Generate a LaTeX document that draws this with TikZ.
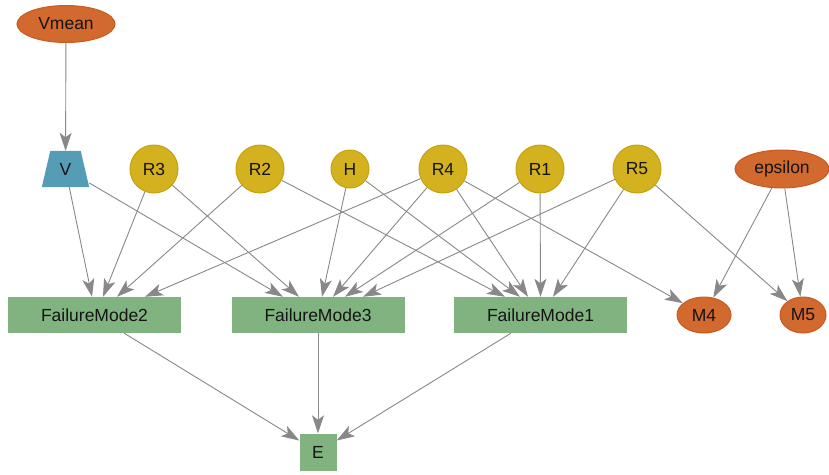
\documentclass[tikz,border=0pt]{standalone}
\usepackage{fontspec}
\setmainfont{Liberation Sans}
\usetikzlibrary{shapes.geometric,arrows.meta}
\definecolor{orng}{HTML}{D2692F}
\definecolor{orngd}{HTML}{C85A22}
\definecolor{yel}{HTML}{D4B11E}
\definecolor{yeld}{HTML}{C6A210}
\definecolor{blu}{HTML}{559CB5}
\definecolor{grn}{HTML}{80B380}
\definecolor{edgec}{HTML}{888888}
\tikzset{
  lbl/.style={font=\fontsize{17.5}{20}\selectfont, text=black!92, inner sep=0pt},
  oval/.style={lbl, ellipse, fill=orng, draw=orngd, line width=1pt},
  rnode/.style={lbl, circle, fill=yel, draw=yeld, line width=1pt, minimum size=48pt},
  fmbox/.style={lbl, rectangle, fill=grn, minimum width=173pt, minimum height=36pt},
  ebox/.style={lbl, rectangle, fill=grn, minimum width=37pt, minimum height=37pt},
  trapbox/.style={lbl, rectangle, minimum width=47pt, minimum height=36pt},
  link/.style={draw=edgec, line width=0.9pt, -{Stealth[length=18pt, width=12pt, inset=4.5pt]}},
}
\begin{document}
\begin{tikzpicture}[x=1pt, y=-1pt]
\useasboundingbox (0,0) rectangle (829,474);
% nodes
\node[oval, minimum width=98pt, minimum height=37pt] (vmean) at (66,24) {Vmean};
\node[trapbox] (v) at (65.5,169) {};
\fill[blu] (v.south west) -- (v.south east) -- ([xshift=-8.5pt]v.north east) -- ([xshift=8.5pt]v.north west) -- cycle;
\node[lbl] (vlabel) at (v) {V};
\node[rnode] (r3) at (154,169) {R3};
\node[rnode] (r2) at (260,169) {R2};
\node[rnode, minimum size=38pt] (h) at (350,169) {H};
\node[rnode] (r4) at (443,169) {R4};
\node[rnode] (r1) at (540,169) {R1};
\node[rnode] (r5) at (637,169) {R5};
\node[oval, minimum width=94pt, minimum height=38pt] (eps) at (782,169) {epsilon};
\node[fmbox] (fm2) at (94.5,315) {FailureMode2};
\node[fmbox] (fm3) at (318,315) {FailureMode3};
\node[fmbox] (fm1) at (540.5,315) {FailureMode1};
\node[oval, minimum width=54pt, minimum height=36pt] (m4) at (704,315) {M4};
\node[oval, minimum width=46pt, minimum height=36pt] (m5) at (803,315) {M5};
\node[ebox] (e) at (318,452) {E};
% edges
\draw[link] (vmean) -- (v);
\draw[link] (v) -- ([xshift=-2.5pt]fm2.north);
\draw[link] (v) -- ([xshift=-35pt]fm3.north);
\draw[link] (r3) -- ([xshift=8.5pt]fm2.north);
\draw[link] (r3) -- ([xshift=-19pt]fm3.north);
\draw[link] (r2) -- ([xshift=22.5pt]fm2.north);
\draw[link] (r2) -- ([xshift=-35.5pt]fm1.north);
\draw[link] (h) -- ([xshift=4pt]fm3.north);
\draw[link] (h) -- ([xshift=-20.5pt]fm1.north);
\draw[link] (r4) -- ([xshift=50.5pt]fm2.north);
\draw[link] (r4) -- ([xshift=15pt]fm3.north);
\draw[link] (r4) -- ([xshift=-12.5pt]fm1.north);
\draw[link] (r4) -- (m4);
\draw[link] (r1) -- ([xshift=27pt]fm3.north);
\draw[link] (r1) -- (fm1.north);
\draw[link] (r5) -- ([xshift=45pt]fm3.north);
\draw[link] (r5) -- ([xshift=12.5pt]fm1.north);
\draw[link] (r5) -- (m5);
\draw[link] (eps) -- (m4);
\draw[link] (eps) -- (m5);
\draw[link] (fm2) -- (e);
\draw[link] (fm3) -- (e);
\draw[link] (fm1) -- (e);
\end{tikzpicture}
\end{document}
